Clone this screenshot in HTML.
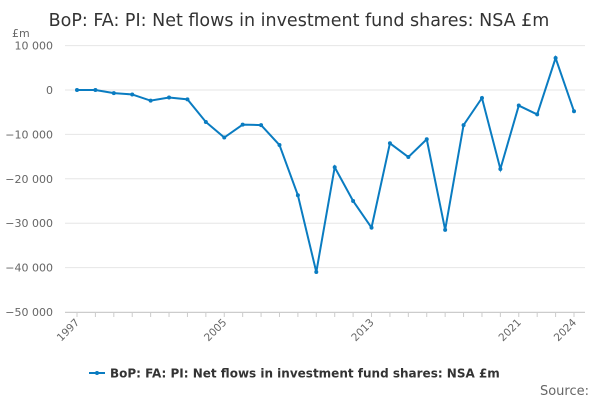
<!DOCTYPE html>
<html><head><meta charset="utf-8"><style>
body{margin:0;background:#fff;font-family:"Liberation Sans","DejaVu Sans",sans-serif;}
svg text{font-family:"DejaVu Sans","Liberation Sans",sans-serif;}
</style></head><body>
<svg id="chart" width="600" height="400">
<text x="299" y="26" text-anchor="middle" font-size="17.5" fill="#333">BoP: FA: PI: Net flows in investment fund shares: NSA £m</text>
<text x="12" y="37" font-size="11" fill="#666">£m</text>
<g id="grid"></g><g id="xaxis"></g><g id="series"></g>
<g>
<line x1="89" y1="373" x2="105" y2="373" stroke="#0a7cc1" stroke-width="2"/>
<circle cx="97" cy="373" r="2" fill="#0a7cc1"/>
<text x="110" y="377.5" font-size="12" font-weight="bold" fill="#333">BoP: FA: PI: Net flows in investment fund shares: NSA £m</text>
</g>
<text x="589" y="395" text-anchor="end" font-size="13" fill="#666">Source:</text>
</svg>
<script>
const years=[1997,1998,1999,2000,2001,2002,2003,2004,2005,2006,2007,2008,2009,2010,2011,2012,2013,2014,2015,2016,2017,2018,2019,2020,2021,2022,2023,2024];
const values=[0,0,-700,-1000,-2400,-1700,-2100,-7200,-10700,-7800,-7900,-12400,-23700,-41000,-17400,-25000,-31000,-12000,-15100,-11100,-31500,-7900,-1800,-17800,-3500,-5500,7200,-4800];
const yTicks=[10000,0,-10000,-20000,-30000,-40000,-50000];
const yTickLabels=["10 000","0","−10 000","−20 000","−30 000","−40 000","−50 000"];
const xLabels=[1997,2005,2013,2021,2024];
const NS="http://www.w3.org/2000/svg";
const x=v=>77+(v-1997)*(574-77)/27;
const y=v=>90-v*44.4/10000;
function mk(t,a,p){const e=document.createElementNS(NS,t);for(const k in a)e.setAttribute(k,a[k]);p.appendChild(e);return e;}
const grid=document.getElementById('grid');
yTicks.forEach((t,i)=>{
 const l=mk('line',{x1:65,x2:585,y1:y(t),y2:y(t),stroke:'#e6e6e6','stroke-width':1},grid);
 
 
 const tx=mk('text',{x:53,y:y(t)+4,'text-anchor':'end','font-size':11,fill:'#666'},grid);
 tx.textContent=yTickLabels[i];
 
 
});
const xa=document.getElementById('xaxis');
mk('line',{x1:65,x2:585,y1:312.5,y2:312.5,stroke:'#ccc'},xa);
years.forEach(yr=>{mk('line',{x1:x(yr),x2:x(yr),y1:312,y2:317,stroke:'#ccc'},xa);});
xLabels.forEach(yr=>{
 const t=mk('text',{x:x(yr)+3,y:323,'text-anchor':'end','font-size':10.5,fill:'#666',transform:`rotate(-45 ${x(yr)+3} 323)`},xa);
 t.textContent=yr;
 
 
});
const s=document.getElementById('series');
const path=mk('path',{d:years.map((yr,i)=>(i?'L':'M')+x(yr)+' '+y(values[i])).join(' '),fill:'none',stroke:'#0a7cc1','stroke-width':2},s);


years.forEach((yr,i)=>{
 const c=mk('circle',{cx:x(yr),cy:y(values[i]),r:2,fill:'#0a7cc1'},s);
 
 
});
</script>
</body></html>
